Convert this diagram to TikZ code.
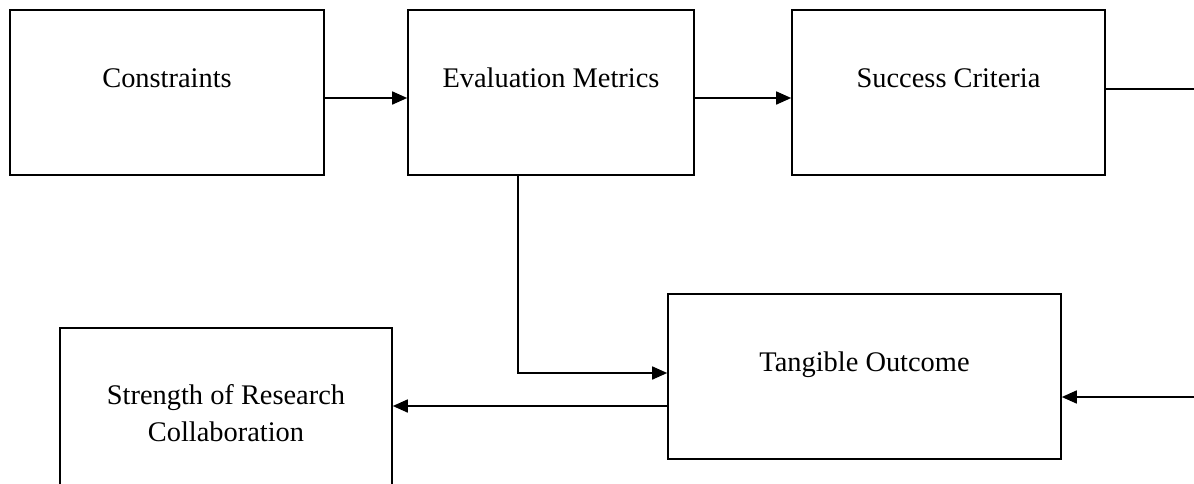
\documentclass[tikz,border=0pt]{standalone}
\usepackage{fontspec}
\setmainfont{Liberation Serif}
\usetikzlibrary{arrows.meta}

\begin{document}
\begin{tikzpicture}[x=0.5pt,y=-0.5pt,
    box/.style={draw,line width=0.8pt,minimum height=82.5pt,inner sep=0pt,
        font=\fontsize{14.2}{18.5}\selectfont},
    oneline/.style={text height=10pt,text depth=15.1pt},
    arr/.style={-{Triangle[length=7.5pt,width=6.5pt]},line width=0.8pt}]
\useasboundingbox (0,0) rectangle (1194,483);
    % Top row
    \node[box,oneline,minimum width=157pt] (cons) at (167,92.5) {Constraints};
    \node[box,oneline,minimum width=143pt] (eval) at (551,92.5) {Evaluation Metrics};
    \node[box,oneline,minimum width=156.5pt] (succ) at (948.5,92.5) {Success Criteria};
    % Bottom row
    \node[box,oneline,minimum width=196.5pt] (tang) at (864.5,376.5) {Tangible Outcome};
    \node[box,align=center,minimum width=166pt,minimum height=85pt] (stren) at (226,413)
        {Strength of Research\\Collaboration};
    % Loose ends at the right edge
    \coordinate (outA) at (1194,89);
    \coordinate (inB) at (1194,397);

    \draw[arr] (cons.east |- 0,98) -- (eval.west |- 0,98);
    \draw[arr] (eval.east |- 0,98) -- (succ.west |- 0,98);
    \draw[line width=0.8pt] (succ.east |- outA) -- (outA);
    \draw[arr] (inB) -- (tang.east |- inB);
    \draw[arr] (eval.south -| 518,0) |- (tang.west |- 0,373);
    \draw[arr] (tang.west |- 0,406) -- (stren.east |- 0,406);
\end{tikzpicture}
\end{document}
